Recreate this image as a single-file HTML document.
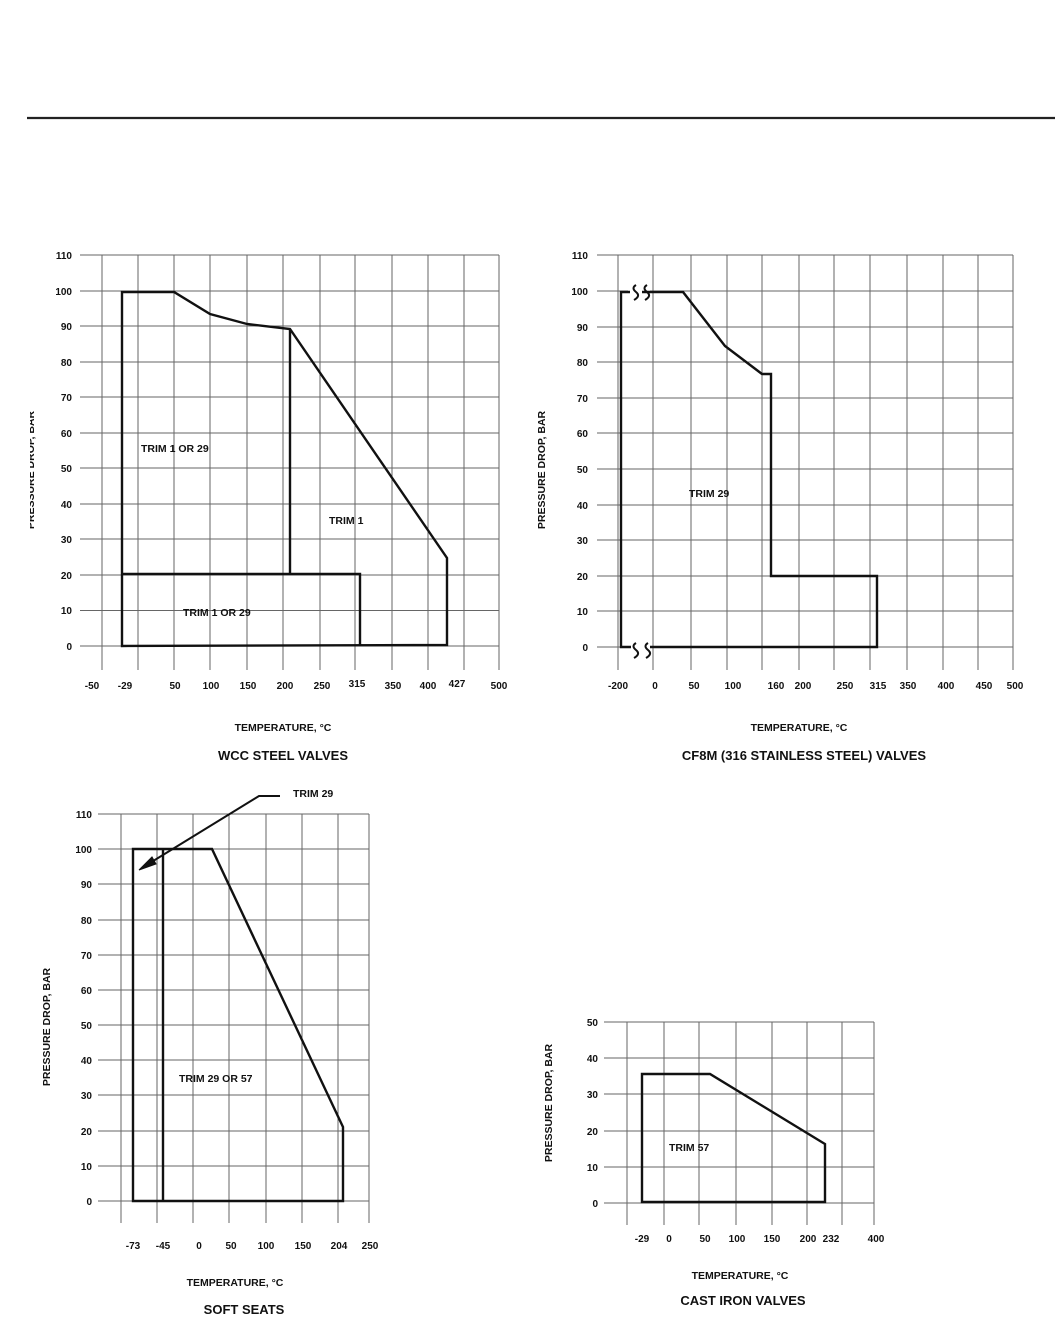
<!DOCTYPE html>
<html><head><meta charset="utf-8"><style>
html,body{margin:0;padding:0;background:#fff;}
svg{display:block;}
text{font-family:"Liberation Sans",Arial,sans-serif;font-weight:bold;fill:#111;}
.g{stroke:#666;stroke-width:1;}
.p{stroke:#111;stroke-width:2.4;fill:none;stroke-linejoin:miter;}
.t{font-size:10px;}
.yl{font-size:10px;text-anchor:end;}
.xl{font-size:10px;text-anchor:middle;}
.ax{font-size:10.5px;text-anchor:middle;}
.tt{font-size:13px;text-anchor:middle;transform-box:fill-box;}
.lab{font-size:10.5px;}
</style></head><body>
<svg width="1057" height="1317" viewBox="0 0 1057 1317" xmlns="http://www.w3.org/2000/svg">
<line x1="27" y1="118" x2="1055" y2="118" stroke="#222" stroke-width="2.2"/>

<!-- Chart 1 -->
<g class="g">
<line x1="80" y1="646" x2="499" y2="646"/><line x1="80" y1="610.5" x2="499" y2="610.5"/><line x1="80" y1="575" x2="499" y2="575"/><line x1="80" y1="539" x2="499" y2="539"/><line x1="80" y1="504" x2="499" y2="504"/><line x1="80" y1="468" x2="499" y2="468"/><line x1="80" y1="433" x2="499" y2="433"/><line x1="80" y1="397" x2="499" y2="397"/><line x1="80" y1="362" x2="499" y2="362"/><line x1="80" y1="326" x2="499" y2="326"/><line x1="80" y1="291" x2="499" y2="291"/><line x1="80" y1="255" x2="499" y2="255"/>
<line x1="102" y1="255" x2="102" y2="670"/><line x1="138" y1="255" x2="138" y2="670"/><line x1="174" y1="255" x2="174" y2="670"/><line x1="210" y1="255" x2="210" y2="670"/><line x1="247" y1="255" x2="247" y2="670"/><line x1="283" y1="255" x2="283" y2="670"/><line x1="320" y1="255" x2="320" y2="670"/><line x1="355" y1="255" x2="355" y2="670"/><line x1="392" y1="255" x2="392" y2="670"/><line x1="428" y1="255" x2="428" y2="670"/><line x1="464" y1="255" x2="464" y2="670"/><line x1="499" y1="255" x2="499" y2="670"/>
</g>
<path class="p" d="M122,646 L122,292 L174,292 L210,314 L247,324 L290,329 L447,558 L447,645 Z M290,329 L290,574 M122,574 L360,574 L360,646"/>
<g class="yl"><text x="72" y="650">0</text><text x="72" y="614">10</text><text x="72" y="579">20</text><text x="72" y="543">30</text><text x="72" y="508">40</text><text x="72" y="472">50</text><text x="72" y="437">60</text><text x="72" y="401">70</text><text x="72" y="366">80</text><text x="72" y="330">90</text><text x="72" y="295">100</text><text x="72" y="259">110</text></g>
<g class="xl"><text x="92" y="689">-50</text><text x="125" y="689">-29</text><text x="175" y="689">50</text><text x="211" y="689">100</text><text x="248" y="689">150</text><text x="285" y="689">200</text><text x="322" y="689">250</text><text x="357" y="687">315</text><text x="393" y="689">350</text><text x="428" y="689">400</text><text x="457" y="687">427</text><text x="499" y="689">500</text></g>
<text class="lab" x="141" y="452">TRIM 1 OR 29</text>
<text class="lab" x="329" y="524">TRIM 1</text>
<text class="lab" x="183" y="616">TRIM 1 OR 29</text>
<text class="ax" x="283" y="731">TEMPERATURE, °C</text>
<text class="tt" x="283" y="760">WCC STEEL VALVES</text>
<text class="ax" transform="translate(34,470) rotate(-90)" x="0" y="0">PRESSURE DROP, BAR</text>
<rect x="20" y="400" width="10" height="150" fill="#fff"/>

<!-- Chart 2 -->
<g class="g">
<line x1="597" y1="647" x2="1013" y2="647"/><line x1="597" y1="611" x2="1013" y2="611"/><line x1="597" y1="576" x2="1013" y2="576"/><line x1="597" y1="540" x2="1013" y2="540"/><line x1="597" y1="505" x2="1013" y2="505"/><line x1="597" y1="469" x2="1013" y2="469"/><line x1="597" y1="433" x2="1013" y2="433"/><line x1="597" y1="398" x2="1013" y2="398"/><line x1="597" y1="362" x2="1013" y2="362"/><line x1="597" y1="327" x2="1013" y2="327"/><line x1="597" y1="291" x2="1013" y2="291"/><line x1="597" y1="255" x2="1013" y2="255"/>
<line x1="618" y1="255" x2="618" y2="670"/><line x1="653" y1="255" x2="653" y2="670"/><line x1="691" y1="255" x2="691" y2="670"/><line x1="727" y1="255" x2="727" y2="670"/><line x1="762" y1="255" x2="762" y2="670"/><line x1="799" y1="255" x2="799" y2="670"/><line x1="834" y1="255" x2="834" y2="670"/><line x1="870" y1="255" x2="870" y2="670"/><line x1="907" y1="255" x2="907" y2="670"/><line x1="943" y1="255" x2="943" y2="670"/><line x1="978" y1="255" x2="978" y2="670"/><line x1="1013" y1="255" x2="1013" y2="670"/>
</g>
<rect x="628" y="282" width="22" height="20" fill="#fff"/>
<rect x="628" y="640" width="22" height="16" fill="#fff"/>
<path class="p" d="M630,292 L621,292 L621,647 L631,647 M650,647 L877,647 L877,576 L771,576 L771,374 L762,374 L725,346 L683,292 L642,292"/>
<path d="M636,285 q-5,3 0,7 q5,4 -2,8 M647,285 q-5,3 0,7 q5,4 -2,8 M636,643 q-5,3 0,7 q5,4 -2,8 M648,643 q-5,3 0,7 q5,4 -2,8" stroke="#111" stroke-width="2" fill="none"/>
<g class="yl"><text x="588" y="651">0</text><text x="588" y="615">10</text><text x="588" y="580">20</text><text x="588" y="544">30</text><text x="588" y="509">40</text><text x="588" y="473">50</text><text x="588" y="437">60</text><text x="588" y="402">70</text><text x="588" y="366">80</text><text x="588" y="331">90</text><text x="588" y="295">100</text><text x="588" y="259">110</text></g>
<g class="xl"><text x="618" y="689">-200</text><text x="655" y="689">0</text><text x="694" y="689">50</text><text x="733" y="689">100</text><text x="776" y="689">160</text><text x="803" y="689">200</text><text x="845" y="689">250</text><text x="878" y="689">315</text><text x="908" y="689">350</text><text x="946" y="689">400</text><text x="984" y="689">450</text><text x="1015" y="689">500</text></g>
<text class="lab" x="689" y="497">TRIM 29</text>
<text class="ax" x="799" y="731">TEMPERATURE, °C</text>
<text class="tt" x="804" y="760">CF8M (316 STAINLESS STEEL) VALVES</text>
<text class="ax" transform="translate(545,470) rotate(-90)">PRESSURE DROP, BAR</text>

<!-- Chart 3 -->
<g class="g">
<line x1="98" y1="1201" x2="369" y2="1201"/><line x1="98" y1="1166" x2="369" y2="1166"/><line x1="98" y1="1131" x2="369" y2="1131"/><line x1="98" y1="1095" x2="369" y2="1095"/><line x1="98" y1="1060" x2="369" y2="1060"/><line x1="98" y1="1025" x2="369" y2="1025"/><line x1="98" y1="990" x2="369" y2="990"/><line x1="98" y1="955" x2="369" y2="955"/><line x1="98" y1="920" x2="369" y2="920"/><line x1="98" y1="884" x2="369" y2="884"/><line x1="98" y1="849" x2="369" y2="849"/><line x1="98" y1="814" x2="369" y2="814"/>
<line x1="121" y1="814" x2="121" y2="1223"/><line x1="157" y1="814" x2="157" y2="1223"/><line x1="193" y1="814" x2="193" y2="1223"/><line x1="229" y1="814" x2="229" y2="1223"/><line x1="266" y1="814" x2="266" y2="1223"/><line x1="302" y1="814" x2="302" y2="1223"/><line x1="338" y1="814" x2="338" y2="1223"/><line x1="369" y1="814" x2="369" y2="1223"/>
</g>
<path class="p" d="M133,1201 L133,849 L212,849 L343,1127 L343,1201 Z M163,849 L163,1201"/>
<path d="M280,796 L259,796 L145,866" stroke="#111" stroke-width="2" fill="none"/>
<path d="M139,870 L152,857 L156,864 Z" fill="#111" stroke="#111" stroke-width="1"/>
<text class="lab" x="293" y="797">TRIM 29</text>
<g class="yl"><text x="92" y="1205">0</text><text x="92" y="1170">10</text><text x="92" y="1135">20</text><text x="92" y="1099">30</text><text x="92" y="1064">40</text><text x="92" y="1029">50</text><text x="92" y="994">60</text><text x="92" y="959">70</text><text x="92" y="924">80</text><text x="92" y="888">90</text><text x="92" y="853">100</text><text x="92" y="818">110</text></g>
<g class="xl"><text x="133" y="1249">-73</text><text x="163" y="1249">-45</text><text x="199" y="1249">0</text><text x="231" y="1249">50</text><text x="266" y="1249">100</text><text x="303" y="1249">150</text><text x="339" y="1249">204</text><text x="370" y="1249">250</text></g>
<text class="lab" x="179" y="1082">TRIM 29 OR 57</text>
<text class="ax" x="235" y="1286">TEMPERATURE, °C</text>
<text class="tt" x="244" y="1314">SOFT SEATS</text>
<text class="ax" transform="translate(50,1027) rotate(-90)">PRESSURE DROP, BAR</text>

<!-- Chart 4 -->
<g class="g">
<line x1="604" y1="1203" x2="874" y2="1203"/><line x1="604" y1="1167" x2="874" y2="1167"/><line x1="604" y1="1131" x2="874" y2="1131"/><line x1="604" y1="1094" x2="874" y2="1094"/><line x1="604" y1="1058" x2="874" y2="1058"/><line x1="604" y1="1022" x2="874" y2="1022"/>
<line x1="627" y1="1022" x2="627" y2="1225"/><line x1="664" y1="1022" x2="664" y2="1225"/><line x1="699" y1="1022" x2="699" y2="1225"/><line x1="736" y1="1022" x2="736" y2="1225"/><line x1="772" y1="1022" x2="772" y2="1225"/><line x1="807" y1="1022" x2="807" y2="1225"/><line x1="842" y1="1022" x2="842" y2="1225"/><line x1="874" y1="1022" x2="874" y2="1225"/>
</g>
<path class="p" d="M642,1202 L642,1074 L710,1074 L825,1144 L825,1202 Z"/>
<g class="yl"><text x="598" y="1207">0</text><text x="598" y="1171">10</text><text x="598" y="1135">20</text><text x="598" y="1098">30</text><text x="598" y="1062">40</text><text x="598" y="1026">50</text></g>
<g class="xl"><text x="642" y="1242">-29</text><text x="669" y="1242">0</text><text x="705" y="1242">50</text><text x="737" y="1242">100</text><text x="772" y="1242">150</text><text x="808" y="1242">200</text><text x="831" y="1242">232</text><text x="876" y="1242">400</text></g>
<text class="lab" x="669" y="1151">TRIM 57</text>
<text class="ax" x="740" y="1279">TEMPERATURE, °C</text>
<text class="tt" x="743" y="1305">CAST IRON VALVES</text>
<text class="ax" transform="translate(552,1103) rotate(-90)">PRESSURE DROP, BAR</text>
</svg>
</body></html>
